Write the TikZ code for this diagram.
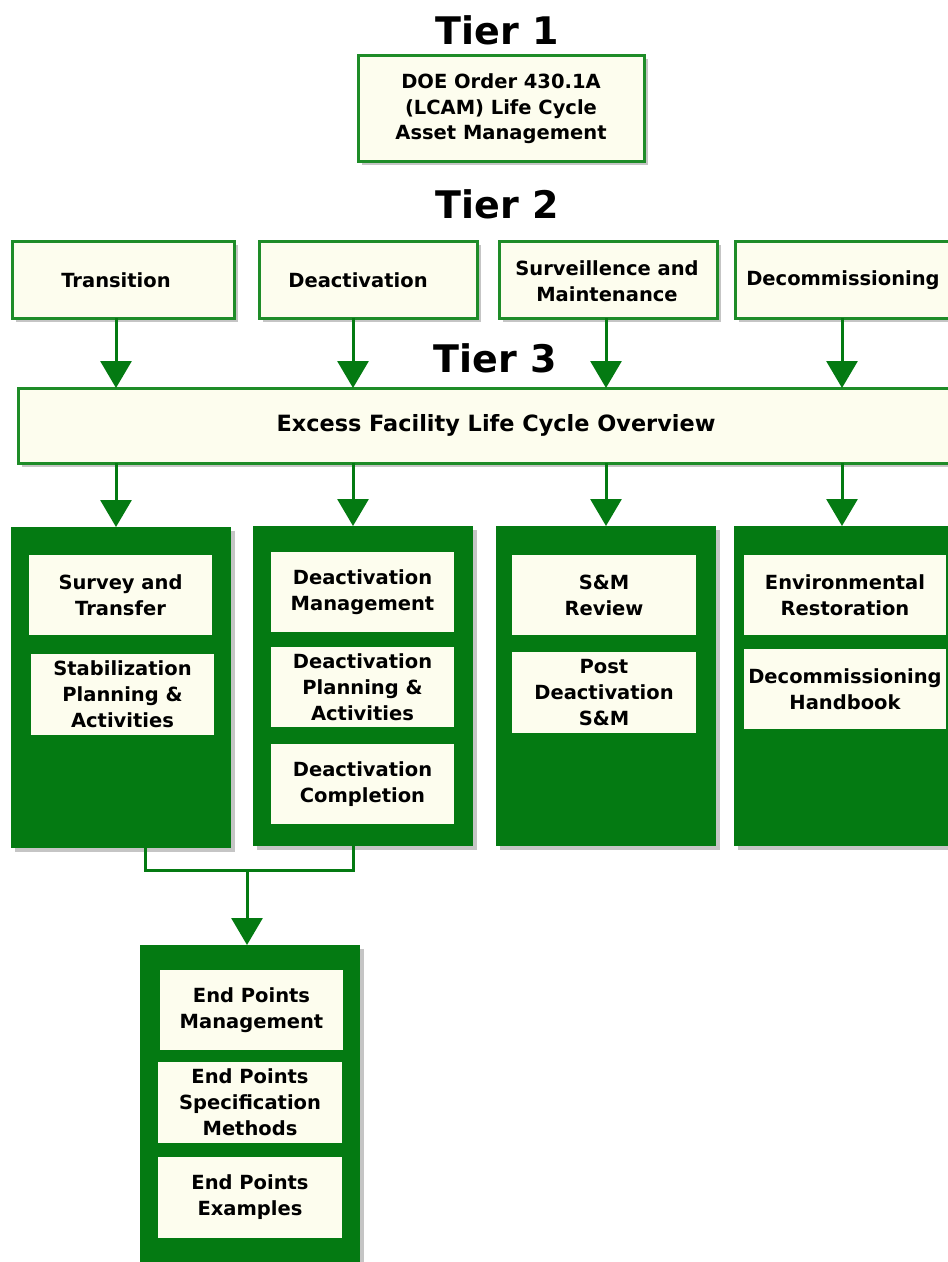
\documentclass[tikz,border=0pt]{standalone}
\usepackage{fontspec}
\setmainfont{DejaVu Sans}
\usetikzlibrary{arrows.meta,shadows}
\definecolor{dgreen}{RGB}{4,122,18}
\definecolor{bgreen}{RGB}{30,140,40}
\definecolor{cream}{RGB}{253,253,238}
\tikzset{
  shd/.style={drop shadow={shadow xshift=4pt,shadow yshift=-4pt,fill=black!45,opacity=0.5}},
  tbox/.style={draw=bgreen,line width=3pt,fill=cream,shd,inner sep=0pt,outer sep=0pt},
  panel/.style={fill=dgreen,shd,inner sep=0pt,outer sep=0pt},
  inbox/.style={fill=cream,inner sep=0pt,outer sep=0pt,minimum width=183pt,minimum height=80pt,
    align=center,font=\fontsize{19.5}{26}\selectfont\bfseries},
  txt/.style={align=center,inner sep=0pt,font=\fontsize{19.5}{25.5}\selectfont\bfseries},
  tier/.style={inner sep=0pt,font=\fontsize{38}{38}\selectfont\bfseries},
  arr/.style={draw=dgreen,line width=3pt,-{Triangle[width=31pt,length=27pt]}},
  conn/.style={draw=dgreen,line width=3pt}
}
\begin{document}
\begin{tikzpicture}[x=1pt,y=-1pt]
\clip (0,0) rectangle (948,1262);
\fill[white] (0,0) rectangle (948,1262);
% Tier labels
\node[tier] (tier1) at (497,30) {Tier 1};
\node[tier] (tier2) at (497,204) {Tier 2};
\node[tier] (tier3) at (495,358) {Tier 3};
% Tier 1 box
\node[tbox,minimum width=286pt,minimum height=106pt] (doe) at (501,108) {};
\node[txt] (doet) at (501,109) {DOE Order 430.1A\\(LCAM) Life Cycle\\Asset Management};
% Tier 2 boxes
\node[tbox,minimum width=222pt,minimum height=77pt] (tran) at (123,279.5) {};
\node[tbox,minimum width=218pt,minimum height=77pt] (deac) at (368,279.5) {};
\node[tbox,minimum width=218pt,minimum height=77pt] (surv) at (608,279.5) {};
\node[tbox,minimum width=230pt,minimum height=77pt] (deco) at (850,279.5) {};
\node[txt] (trant) at (116,280) {Transition};
\node[txt] (deact) at (358,280) {Deactivation};
\node[txt] (survt) at (607,281) {Surveillence and\\Maintenance};
\node[txt] (decot) at (843,280) {Decommissioning};
% Overview
\node[tbox,minimum width=947pt,minimum height=75pt] (over) at (491.5,425.5) {};
\node[txt,font=\fontsize{22.4}{26}\selectfont\bfseries] (overt) at (496,425) {Excess Facility Life Cycle Overview};
% Panels
\node[panel,minimum width=220pt,minimum height=321pt] (p1) at (121,687.5) {};
\node[panel,minimum width=220pt,minimum height=320pt] (p2) at (363,686) {};
\node[panel,minimum width=220pt,minimum height=320pt] (p3) at (606,686) {};
\node[panel,minimum width=231pt,minimum height=320pt] (p4) at (849.5,686) {};
\node[panel,minimum width=220pt,minimum height=330pt] (p5) at (250,1110) {};
% Inner boxes
\node[inbox] (s1a) at (120.5,595) {Survey and\\Transfer};
\node[inbox,minimum height=81pt] (s1b) at (122.5,694.5) {Stabilization\\Planning \&\\Activities};
\node[inbox] (s2a) at (362.5,592) {Deactivation\\Management};
\node[inbox] (s2b) at (362.5,687) {Deactivation\\Planning \&\\Activities};
\node[inbox] (s2c) at (362.5,784) {Deactivation\\Completion};
\node[inbox,minimum width=184pt] (s3a) at (604,595) {S\&M\\Review};
\node[inbox,minimum width=184pt,minimum height=81pt] (s3b) at (604,692.5) {Post\\Deactivation\\S\&M};
\node[inbox,minimum width=202pt] (s4a) at (845,595) {Environmental\\Restoration};
\node[inbox,minimum width=202pt] (s4b) at (845,689) {Decommissioning\\Handbook};
\node[inbox] (s5a) at (251.5,1010) {End Points\\Management};
\node[inbox,minimum width=184pt,minimum height=81pt] (s5b) at (250,1102.5) {End Points\\Specification\\Methods};
\node[inbox,minimum width=184pt,minimum height=81pt] (s5c) at (250,1197.5) {End Points\\Examples};
% Arrow columns
\coordinate (c1) at (116,0);
\coordinate (c2) at (353,0);
\coordinate (c3) at (606,0);
\coordinate (c4) at (842,0);
\draw[arr] (tran.south -| c1) -- (over.north -| c1);
\draw[arr] (deac.south -| c2) -- (over.north -| c2);
\draw[arr] (surv.south -| c3) -- (over.north -| c3);
\draw[arr] (deco.south -| c4) -- (over.north -| c4);
\draw[arr] (over.south -| c1) -- (p1.north -| c1);
\draw[arr] (over.south -| c2) -- (p2.north -| c2);
\draw[arr] (over.south -| c3) -- (p3.north -| c3);
\draw[arr] (over.south -| c4) -- (p4.north -| c4);
% Merge connector
\coordinate (j1) at (145,870);
\coordinate (j2) at (353,870);
\coordinate (jm) at (247,870);
\draw[conn] (p1.south -| j1) -- (j1) -- (j2) -- (p2.south -| j2);
\draw[arr] (jm) -- (p5.north -| jm);
\end{tikzpicture}
\end{document}
